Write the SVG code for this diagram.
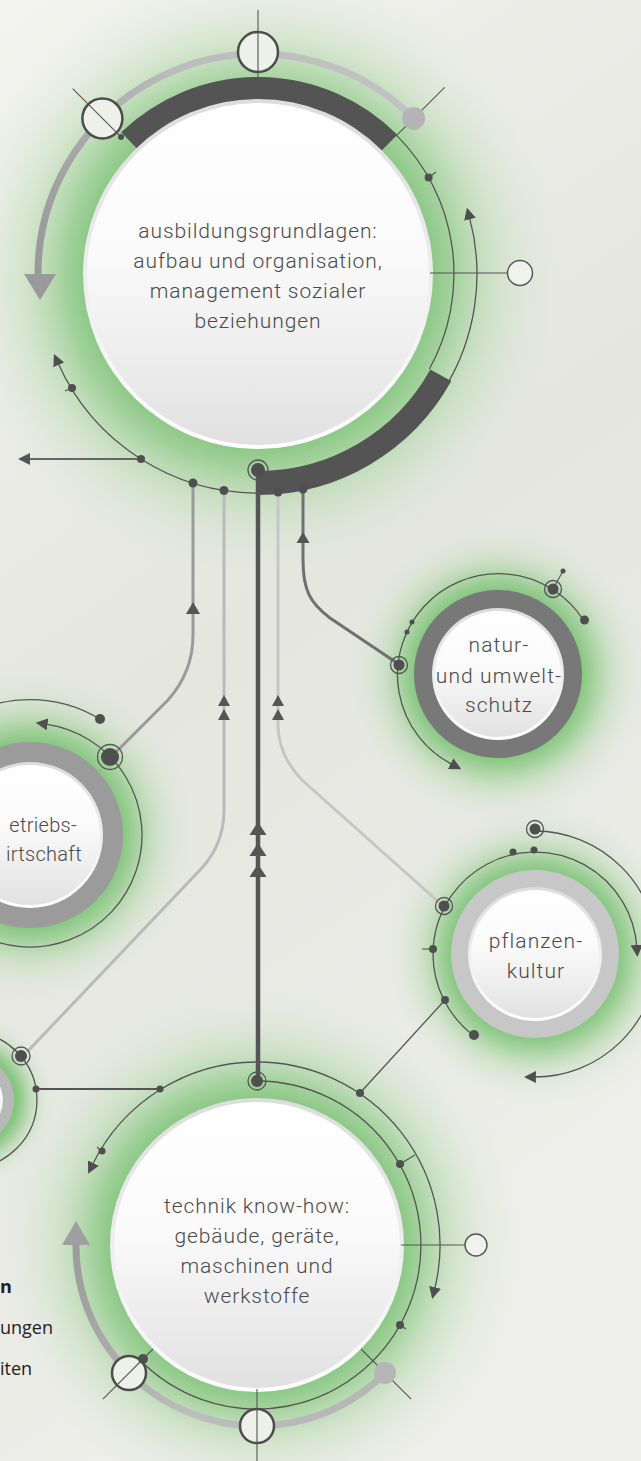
<svg xmlns="http://www.w3.org/2000/svg" width="641" height="1461" viewBox="0 0 641 1461">
<style>
.thin{fill:none;stroke:#555;stroke-width:1.3}
.dot{fill:#4f4f4f}
.ring{fill:none;stroke:#555;stroke-width:1.3}
.oc{fill:#eef0ea;stroke:#4d4d4d;stroke-width:2.5}
.lbl{font-family:Roboto,"Liberation Sans",sans-serif;font-weight:300;fill:#4a4a4a;text-anchor:middle;font-size:21px;letter-spacing:0.9px}
.sm{letter-spacing:1.1px}
.bw{font-size:20px;letter-spacing:0.3px;text-anchor:end}
.side{font-family:"Open Sans","Liberation Sans",sans-serif;fill:#222;font-size:18px}
.cross{stroke:#555;stroke-width:1.1}
</style>
<defs>
<linearGradient id="bg" x1="0" y1="0" x2="0.3" y2="1">
<stop offset="0" stop-color="#f3f3ef"/><stop offset="0.5" stop-color="#e5e6e0"/><stop offset="1" stop-color="#eeeeea"/>
</linearGradient>
<linearGradient id="wf" x1="0" y1="0" x2="0" y2="1">
<stop offset="0" stop-color="#ffffff"/><stop offset="0.45" stop-color="#fafafa"/><stop offset="1" stop-color="#e1e1e2"/>
</linearGradient>
<linearGradient id="wr" x1="0" y1="0" x2="0" y2="1">
<stop offset="0" stop-color="#dcdcdc"/><stop offset="1" stop-color="#ffffff"/>
</linearGradient>
<radialGradient id="glow" cx="0.5" cy="0.5" r="0.5">
<stop offset="0.54" stop-color="#84c67e" stop-opacity="1"/>
<stop offset="0.62" stop-color="#8fca88" stop-opacity="0.8"/>
<stop offset="0.75" stop-color="#a8d49f" stop-opacity="0.4"/>
<stop offset="0.9" stop-color="#c4dfbe" stop-opacity="0.12"/>
<stop offset="1" stop-color="#d0e2cb" stop-opacity="0"/>
</radialGradient>
<linearGradient id="grayTop" gradientUnits="userSpaceOnUse" x1="414" y1="118" x2="38" y2="274">
<stop offset="0" stop-color="#c2c2c3"/><stop offset="0.5" stop-color="#bcbcbc"/><stop offset="1" stop-color="#999"/>
</linearGradient>
<linearGradient id="grayBot" gradientUnits="userSpaceOnUse" x1="76" y1="1245" x2="385" y2="1373">
<stop offset="0" stop-color="#9c9c9c"/><stop offset="0.5" stop-color="#bdbdbd"/><stop offset="1" stop-color="#b6b6b7"/>
</linearGradient>
<marker id="ah" viewBox="0 0 12 12" refX="2" refY="6" markerWidth="12" markerHeight="12" markerUnits="userSpaceOnUse" orient="auto">
<path d="M0,0 L12,6 L0,12 z" fill="#4f4f4f"/>
</marker>
</defs>
<rect width="641" height="1461" fill="url(#bg)"/>

<!-- glows -->
<circle cx="258" cy="274" r="310" fill="url(#glow)"/>
<circle cx="257" cy="1245" r="262" fill="url(#glow)"/>
<circle cx="498" cy="674" r="152" fill="url(#glow)"/>
<circle cx="535" cy="954" r="152" fill="url(#glow)"/>
<circle cx="30" cy="835" r="168" fill="url(#glow)"/>
<circle cx="-31" cy="1100" r="88" fill="url(#glow)"/>

<g id="connectors" fill="none">
<path d="M193,483 V635 Q193,672 168,700 L112,756" stroke="#9a9a9a" stroke-width="3"/>
<path d="M224,491 V810 Q224,845 200,870 L27,1052" stroke="#bababa" stroke-width="3"/>
<path d="M258,470 V1081" stroke="#555" stroke-width="4.5"/>
<path d="M278,493 V725 Q278,755 302,780 L442,905" stroke="#c6c6c6" stroke-width="3"/>
<path d="M303,489 V560 C303,590 310,603 330,618 L397,663" stroke="#707070" stroke-width="3"/>
<path d="M141,459 H28" stroke="#666" stroke-width="1.8"/>
<path d="M36,1089 H160" stroke="#555" stroke-width="1.8"/>
<path d="M445,1000 L360,1093" stroke="#555" stroke-width="1.3"/>
<g fill="#555" stroke="none">
<polygon points="18,459 30,453 30,465"/>
<polygon points="186,614 200,614 193,602"/>
<polygon points="218,706 230,706 224,695"/>
<polygon points="218,720 230,720 224,709"/>
<polygon points="272,706 284,706 278,695"/>
<polygon points="272,720 284,720 278,709"/>
<polygon points="296.5,543 309.5,543 303,532"/>
<polygon points="249.5,835 266.5,835 258,822"/>
<polygon points="249.5,856 266.5,856 258,843"/>
<polygon points="249.5,877 266.5,877 258,864"/>
</g>
</g>

<g id="node-ausbildung">
<path d="M413.6,118.4 A220,220 0 0 0 38,274" fill="none" stroke="url(#grayTop)" stroke-width="7"/>
<polygon points="24,274 56,274 40,300" fill="#9a9a9a"/>
<path d="M396.6,135.4 A196,196 0 0 1 429.4,369" class="thin"/>
<path d="M443.7,390 A219,219 0 0 0 469.5,217.3" class="thin" marker-end="url(#ah)"/>
<path d="M262,493 A219,219 0 0 1 58,363.1" class="thin" marker-end="url(#ah)"/>
<path d="M129.1,140.6 A185.5,185.5 0 0 1 389.2,142.8" fill="none" stroke="#545454" stroke-width="23"/>
<path d="M440.8,375.3 A209,209 0 0 1 258,483" fill="none" stroke="#545454" stroke-width="24"/>
<circle cx="258" cy="274" r="175" fill="url(#wr)"/>
<circle cx="258" cy="274" r="171" fill="url(#wf)"/>
<line x1="430" y1="273" x2="507" y2="273" class="cross"/>
<circle cx="520" cy="273" r="12.5" fill="#f1f2ed" stroke="#555" stroke-width="1.4"/>
<circle cx="258" cy="52" r="20" class="oc"/>
<circle cx="102.4" cy="118.4" r="20" class="oc"/>
<line x1="258" y1="10" x2="258" y2="77" class="cross"/>
<line x1="122.2" y1="138.2" x2="72.7" y2="88.7" class="cross"/>
<line x1="395.9" y1="136.1" x2="444.7" y2="87.3" class="cross"/>
<circle cx="413.6" cy="118.4" r="11.5" fill="#b4b4b6"/>
<circle cx="121" cy="137" r="3" class="dot"/>
<circle cx="428.6" cy="177.5" r="4" class="dot"/>
<line x1="428.6" y1="177.5" x2="436" y2="172" class="cross"/>
<circle cx="72" cy="388" r="4" class="dot"/>
<line x1="72" y1="388" x2="65" y2="391" class="cross"/>
<circle cx="141" cy="459" r="4" class="dot"/>
<circle cx="193" cy="483" r="4.5" class="dot"/>
<circle cx="224" cy="490.5" r="4.5" class="dot"/>
<circle cx="278" cy="492" r="4.5" class="dot"/>
<circle cx="303" cy="489" r="4.5" class="dot"/>
<circle cx="258" cy="470" r="7" class="dot"/>
<circle cx="258" cy="470" r="10" class="ring"/>
<text class="lbl" x="258" y="238">ausbildungsgrundlagen:</text>
<text class="lbl" x="258" y="268">aufbau und organisation,</text>
<text class="lbl" x="258" y="298">management sozialer</text>
<text class="lbl" x="258" y="328">beziehungen</text>
</g>

<g id="node-natur">
<path d="M583.7,620.5 A101,101 0 1 0 452.4,764.6" class="thin" marker-end="url(#ah)"/>
<circle cx="498" cy="674" r="74.5" fill="none" stroke="#787878" stroke-width="19"/>
<circle cx="498" cy="674" r="66" fill="url(#wr)"/>
<circle cx="498" cy="674" r="63" fill="url(#wf)"/>
<circle cx="584.5" cy="620" r="4.5" class="dot"/>
<line x1="553" y1="589" x2="563" y2="571" class="cross"/>
<circle cx="563" cy="571" r="2.5" class="dot"/>
<circle cx="553" cy="589" r="5.5" class="dot"/>
<circle cx="553" cy="589" r="8.5" class="ring"/>
<circle cx="412" cy="622" r="2.5" class="dot"/>
<circle cx="407" cy="632" r="2.5" class="dot"/>
<circle cx="399" cy="665" r="5.5" class="dot"/>
<circle cx="399" cy="665" r="8.5" class="ring"/>
<text class="lbl sm" x="499" y="652">natur-</text>
<text class="lbl sm" x="499" y="683">und umwelt-</text>
<text class="lbl sm" x="499" y="712">schutz</text>
</g>

<g id="node-pflanzen">
<path d="M473.6,1035.5 A102,102 0 1 1 636.8,946.9" class="thin" marker-end="url(#ah)"/>
<path d="M535,831 A123,123 0 1 1 533.9,1077" class="thin" marker-end="url(#ah)"/>
<circle cx="535" cy="954" r="75" fill="none" stroke="#c6c7c6" stroke-width="18"/>
<circle cx="535" cy="954" r="67" fill="url(#wr)"/>
<circle cx="535" cy="954" r="64" fill="url(#wf)"/>
<circle cx="535" cy="829" r="5.5" class="dot"/>
<circle cx="535" cy="829" r="8.5" class="ring"/>
<circle cx="513" cy="852" r="3.5" class="dot"/>
<circle cx="534" cy="850" r="3.5" class="dot"/>
<circle cx="444" cy="906" r="5.5" class="dot"/>
<circle cx="444" cy="906" r="8.5" class="ring"/>
<line x1="422" y1="949" x2="433" y2="949" class="cross"/>
<circle cx="433" cy="949" r="4" class="dot"/>
<circle cx="445" cy="1000" r="4" class="dot"/>
<circle cx="474" cy="1035" r="5" class="dot"/>
<text class="lbl sm" x="536" y="948">pflanzen-</text>
<text class="lbl sm" x="536" y="978">kultur</text>
</g>

<g id="node-betriebswirtschaft">
<path d="M-26,932 A112,112 0 1 0 45.6,724.1" class="thin" marker-end="url(#ah)"/>
<path d="M100,719 A135.5,135.5 0 0 0 -39.8,718.9" class="thin"/>
<circle cx="30" cy="835" r="82.5" fill="none" stroke="#9b9b9b" stroke-width="21"/>
<circle cx="30" cy="835" r="73" fill="url(#wr)"/>
<circle cx="30" cy="835" r="70" fill="url(#wf)"/>
<circle cx="100" cy="719" r="5" class="dot"/>
<circle cx="110" cy="757" r="9" class="dot"/>
<circle cx="110" cy="757" r="12.5" class="ring"/>
<text class="lbl bw" x="77" y="832">etriebs-</text>
<text class="lbl bw" x="82" y="861">irtschaft</text>
</g>

<g id="node-small-left">
<path d="M-31,1032 A68,68 0 0 1 -31,1168" class="thin"/>
<circle cx="-31" cy="1100" r="39.5" fill="none" stroke="#b8b8b8" stroke-width="11"/>
<circle cx="-31" cy="1100" r="34" fill="url(#wf)"/>
<circle cx="21" cy="1056" r="6" class="dot"/>
<circle cx="21" cy="1056" r="9" class="ring"/>
<circle cx="36" cy="1089" r="3.5" class="dot"/>
</g>

<g id="node-technik">
<path d="M383.9,1373.9 A181,181 0 0 1 76,1245" fill="none" stroke="url(#grayBot)" stroke-width="7"/>
<polygon points="62,1245 90,1245 76,1221" fill="#9f9f9f"/>
<path d="M257,1062 A183,183 0 0 0 92.5,1164.8" class="thin" marker-end="url(#ah)"/>
<path d="M257,1062 A183,183 0 0 1 434.6,1289.3" class="thin" marker-end="url(#ah)"/>
<path d="M257,1081 A164,164 0 1 1 139,1359" class="thin"/>
<circle cx="257" cy="1245" r="147" fill="url(#wr)"/>
<circle cx="257" cy="1245" r="143" fill="url(#wf)"/>
<line x1="401" y1="1245" x2="465" y2="1245" class="cross"/>
<circle cx="476" cy="1245" r="11" fill="#f1f2ed" stroke="#555" stroke-width="1.4"/>
<circle cx="257" cy="1426" r="17" class="oc"/>
<circle cx="129" cy="1373" r="17" class="oc"/>
<line x1="257" y1="1389" x2="257" y2="1461" class="cross"/>
<line x1="153" y1="1349" x2="102.9" y2="1399.1" class="cross"/>
<line x1="361" y1="1349" x2="411.1" y2="1399.1" class="cross"/>
<circle cx="385" cy="1373" r="11" fill="#b5b5b6"/>
<circle cx="143" cy="1359" r="5" class="dot"/>
<circle cx="160" cy="1089" r="3.5" class="dot"/>
<circle cx="360" cy="1093" r="4" class="dot"/>
<circle cx="102" cy="1151" r="3.5" class="dot"/>
<line x1="102" y1="1151" x2="97" y2="1147" class="cross"/>
<circle cx="400" cy="1164" r="4" class="dot"/>
<line x1="400" y1="1164" x2="415" y2="1155" class="cross"/>
<circle cx="400" cy="1325" r="4" class="dot"/>
<line x1="400" y1="1325" x2="406" y2="1329" class="cross"/>
<circle cx="257" cy="1081" r="6" class="dot"/>
<circle cx="257" cy="1081" r="9" class="ring"/>
<text class="lbl" x="257" y="1213">technik know-how:</text>
<text class="lbl" x="257" y="1243">gebäude, geräte,</text>
<text class="lbl" x="257" y="1273">maschinen und</text>
<text class="lbl" x="257" y="1303">werkstoffe</text>
</g>

<g id="side-text">
<text class="side" x="0" y="1293" font-weight="bold">n</text>
<text class="side" x="0" y="1334">ungen</text>
<text class="side" x="0" y="1375">iten</text>
</g>
</svg>
